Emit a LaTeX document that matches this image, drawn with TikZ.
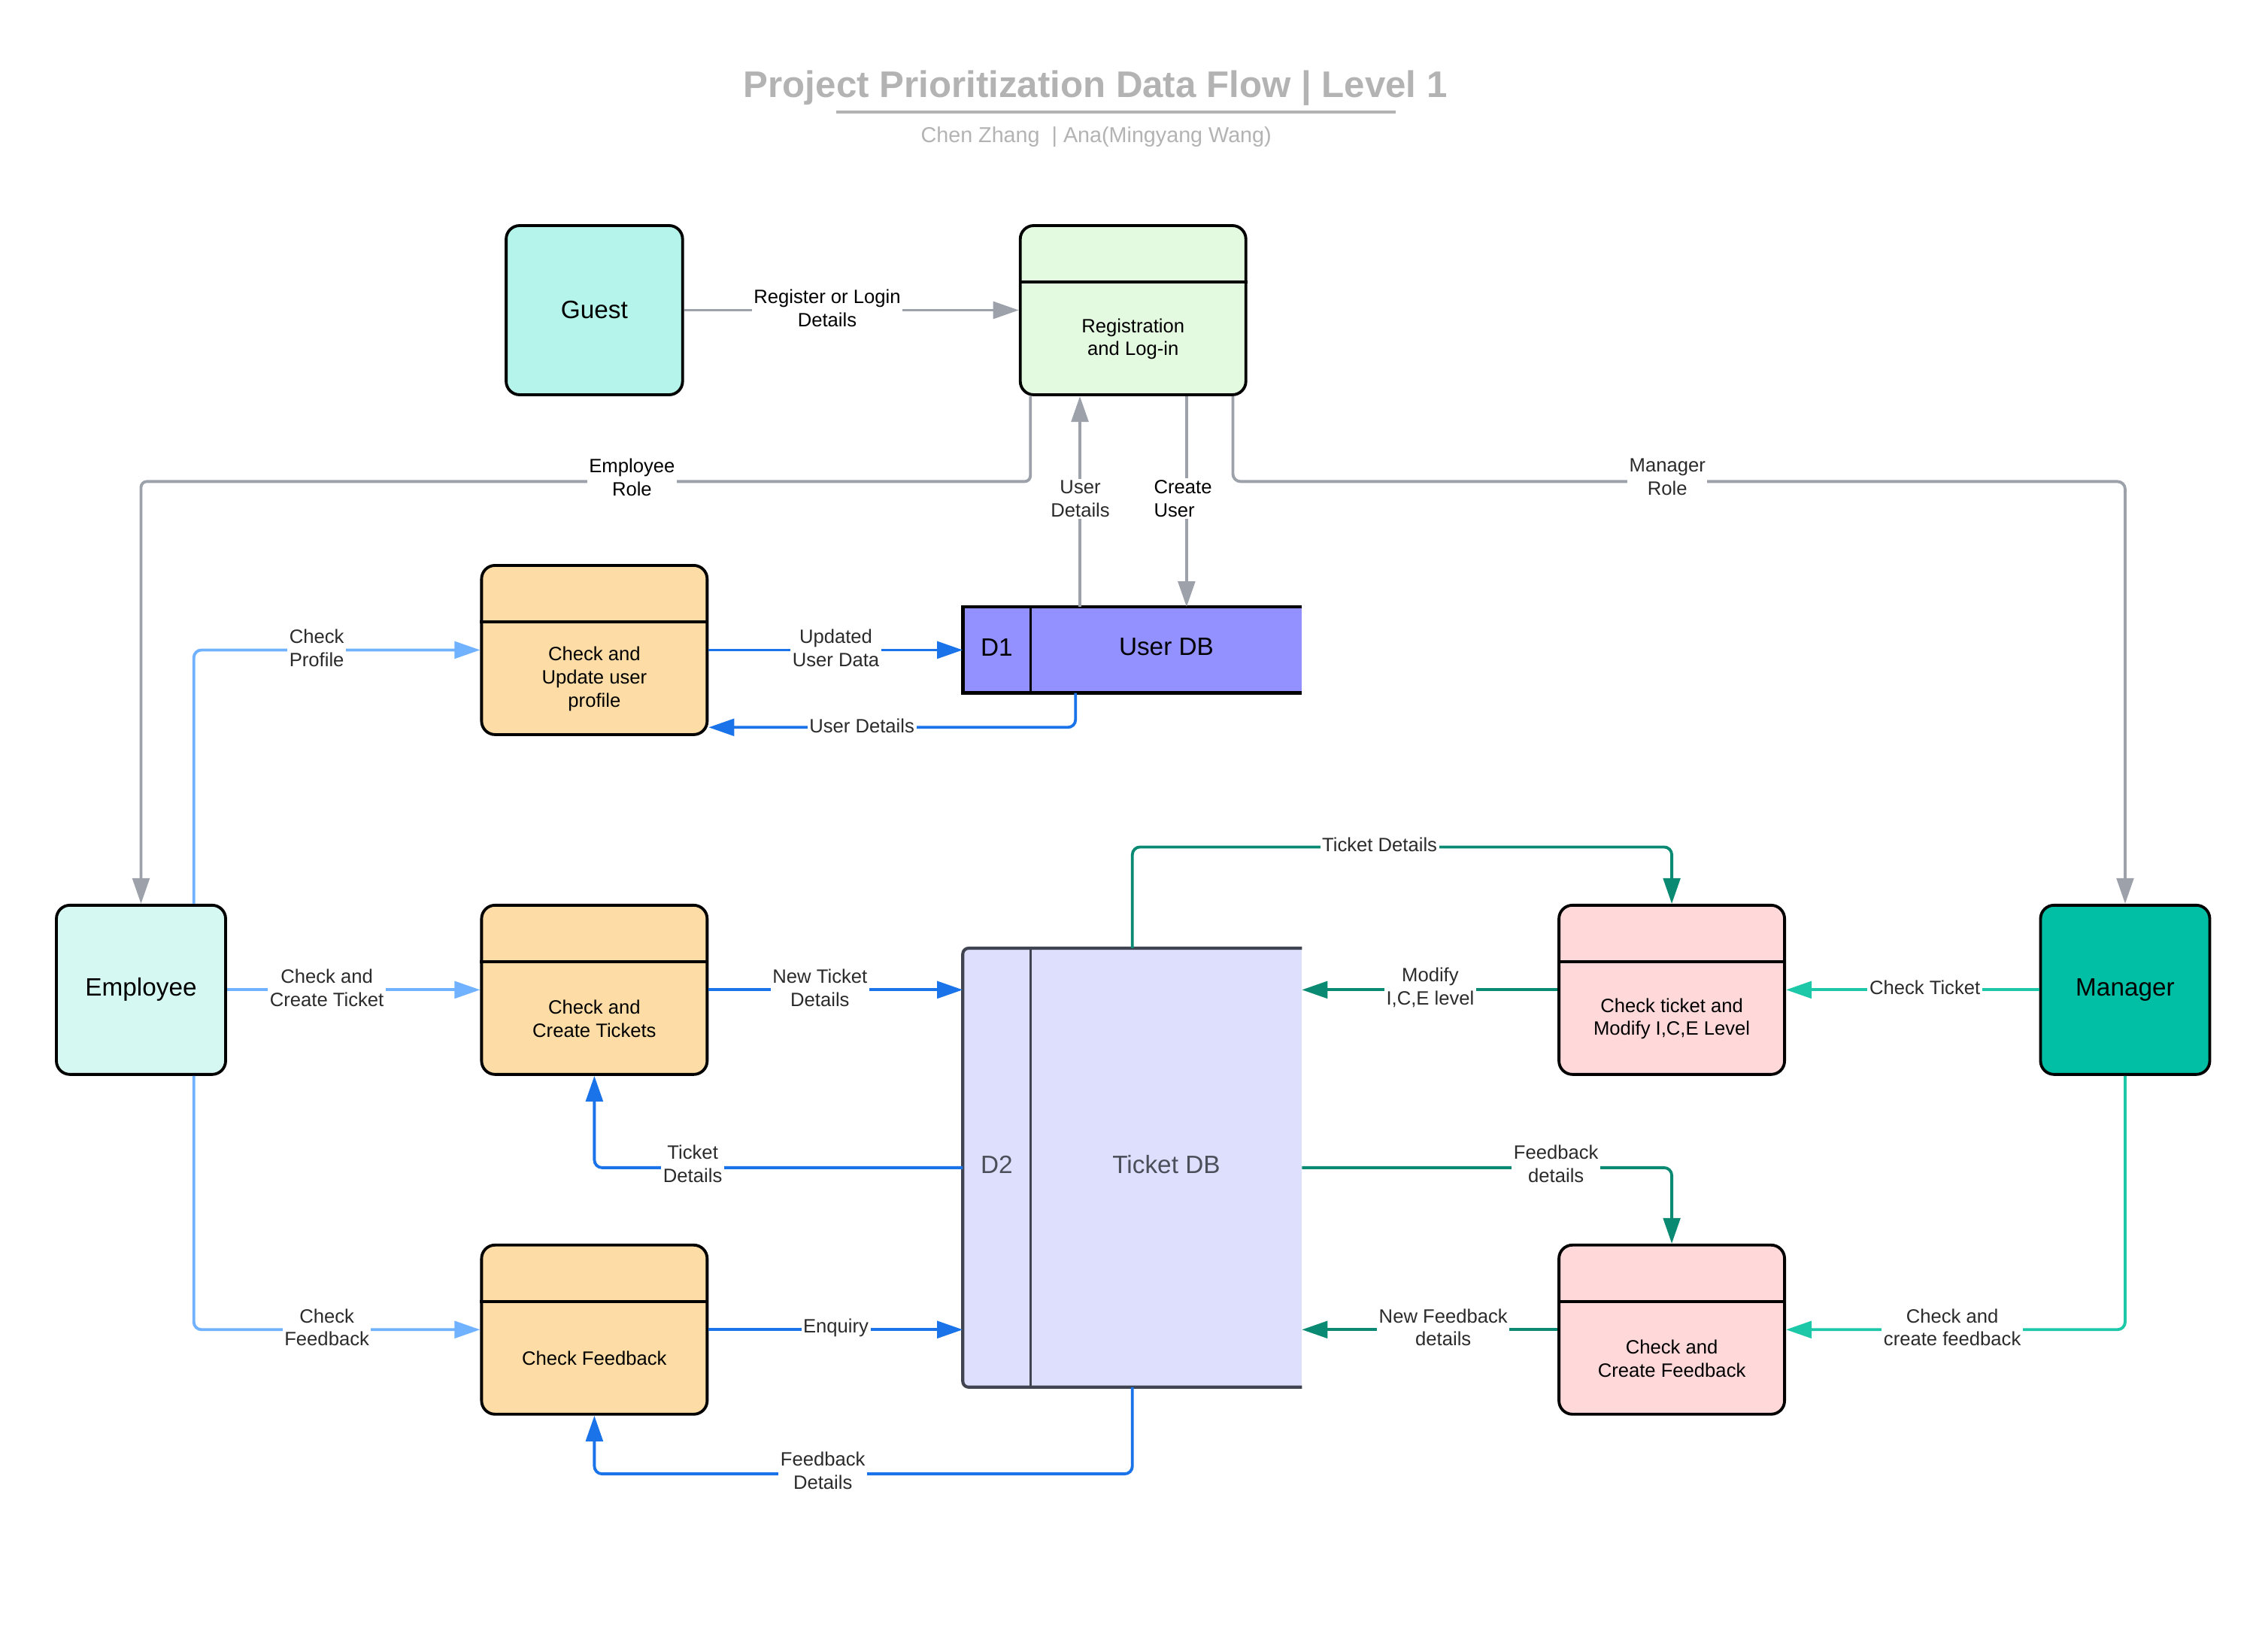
\documentclass[tikz,border=0pt]{standalone}
\usepackage{fontspec}
\setmainfont{Liberation Sans}
\usetikzlibrary{arrows.meta,calc}
\definecolor{cguest}{HTML}{B4F4EA}
\definecolor{creg}{HTML}{E3FAE0}
\definecolor{corange}{HTML}{FDDCA5}
\definecolor{cudb}{HTML}{9391FF}
\definecolor{ctdb}{HTML}{DEDFFD}
\definecolor{ctdbline}{HTML}{3F4450}
\definecolor{cemp}{HTML}{D6F8F3}
\definecolor{cpink}{HTML}{FFD9DA}
\definecolor{cmgr}{HTML}{00BFA5}
\definecolor{cgray}{HTML}{9CA1AA}
\definecolor{cblue}{HTML}{1A73E8}
\definecolor{clblue}{HTML}{70B2FF}
\definecolor{cdteal}{HTML}{0B8A73}
\definecolor{cbteal}{HTML}{1CC8A7}
\definecolor{ctitle}{HTML}{B3B3B3}
\definecolor{clabel}{HTML}{2B2B2B}
\definecolor{cdbtext}{HTML}{4A4F5A}
\begin{document}
\begin{tikzpicture}[x=0.75pt,y=-0.75pt,
  box/.style={draw=black, line width=1.5pt, rounded corners=7pt, inner sep=0pt, minimum height=87.75pt},
  entity/.style={box, minimum width=87.75pt, font=\fontsize{13}{15}\selectfont},
  proc/.style={box, minimum width=117pt},
  ptext/.style={align=center, font=\fontsize{10}{12}\selectfont, inner sep=0pt},
  lbl/.style={align=center, font=\fontsize{10}{12}\selectfont, text=clabel, fill=white, inner sep=1pt},
  tip/.style={-{Triangle[length=13.3pt,width=8.8pt]}},
  garrow/.style={draw=cgray, line width=1.5pt, tip},
  barrow/.style={draw=cblue, line width=1.5pt, tip},
  lbarrow/.style={draw=clblue, line width=1.5pt, tip},
  darrow/.style={draw=cdteal, line width=1.5pt, tip},
  tarrow/.style={draw=cbteal, line width=1.5pt, tip},
  divider/.style={line width=1.5pt, draw=black},
  dbtext/.style={font=\fontsize{13}{15}\selectfont, inner sep=0pt}
]
\useasboundingbox (0,0) rectangle (1560,1142);

% title
\node[font=\fontsize{19.2}{22}\selectfont\bfseries, text=ctitle] (title) at (757.5,61) {Project Prioritization Data Flow | Level 1};
\coordinate (ul1) at (578,77.5);
\coordinate (ul2) at (965,77.5);
\draw[draw=ctitle, line width=1.6pt] (ul1) -- (ul2);
\node[font=\fontsize{11.2}{13}\selectfont, text=ctitle] (subtitle) at (758,94.5) {Chen Zhang \ | Ana(Mingyang Wang)};

% entities
\node[entity, fill=cguest, minimum width=91.5pt] (guest) at (411,214.5) {Guest};
\node[entity, fill=cemp] (emp) at (97.5,684.5) {Employee};
\node[entity, fill=cmgr] (mgr) at (1469.5,684.5) {Manager};

% processes
\node[proc, fill=creg] (reg) at (783.5,214.5) {};
\node[proc, fill=corange] (upd) at (411,449.5) {};
\node[proc, fill=corange] (ctk) at (411,684.5) {};
\node[proc, fill=corange] (cfb) at (411,919.5) {};
\node[proc, fill=cpink] (ctm) at (1156,684.5) {};
\node[proc, fill=cpink] (cfc) at (1156,919.5) {};
\foreach \n in {reg,upd,ctk,cfb,ctm,cfc}{
  \draw[divider] ($(\n.north west)+(0,40)$) -- ($(\n.north east)+(0,40)$);
}
\node[ptext] (regt) at ($(reg.center)+(0,20)$) {Registration\\and Log-in};
\node[ptext] (updt) at ($(upd.center)+(0,20)$) {Check and\\Update user\\profile};
\node[ptext] (ctkt) at ($(ctk.center)+(0,20)$) {Check and\\Create Tickets};
\node[ptext] (cfbt) at ($(cfb.center)+(0,20)$) {Check Feedback};
\node[ptext] (ctmt) at ($(ctm.center)+(0,20)$) {Check ticket and\\Modify I,C,E Level};
\node[ptext] (cfct) at ($(cfc.center)+(0,20)$) {Check and\\Create Feedback};

% data stores
\node[fill=cudb, minimum width=175.5pt, minimum height=44.25pt, inner sep=0pt] (udb) at (783,449.5) {};
\draw[line width=1.8pt, draw=black] (udb.north east) -- (udb.north west) -- (udb.south west) -- (udb.south east);
\draw[line width=1.4pt, draw=black] ($(udb.north west)+(47,0)$) -- ($(udb.south west)+(47,0)$);
\node[dbtext] (d1) at ($(udb.west)+(23.5,-2)$) {D1};
\node[dbtext] (udbt) at ($(udb.center)+(23.5,-2)$) {User DB};

\node[fill=ctdb, minimum width=175.5pt, minimum height=227.25pt, inner sep=0pt] (tdb) at (783,807.5) {};
\draw[line width=1.6pt, draw=ctdbline, rounded corners=3pt] (tdb.north east) -- (tdb.north west) -- (tdb.south west) -- (tdb.south east);
\draw[line width=1.2pt, draw=ctdbline] ($(tdb.north west)+(47,0)$) -- ($(tdb.south west)+(47,0)$);
\node[dbtext, text=cdbtext] (d2) at ($(tdb.west)+(23.5,-2)$) {D2};
\node[dbtext, text=cdbtext] (tdbt) at ($(tdb.center)+(23.5,-2)$) {Ticket DB};

% gray connectors
\draw[garrow] (guest) -- (reg);
\draw[garrow, rounded corners=3pt] ($(reg.south west)+(8,0)$) -- ++(0,59) -| (emp.north);
\draw[garrow, rounded corners=4pt] ($(reg.south east)+(-10,0)$) -- ++(0,59) -| (mgr.north);
\coordinate (ud1) at ($(udb.north west)+(81,0)$);
\draw[garrow] (ud1) -- (ud1 |- reg.south);
\coordinate (cu1) at ($(reg.south west)+(116,0)$);
\draw[garrow] (cu1) -- (cu1 |- udb.north);

% blue connectors (employee side)
\coordinate (cp) at ($(emp.north west)+(96,0)$);
\draw[lbarrow, rounded corners=4pt] (cp) |- (upd.west);
\draw[lbarrow] (emp.east) -- (ctk.west);
\coordinate (cfq) at ($(emp.south west)+(96,0)$);
\draw[lbarrow, rounded corners=4pt] (cfq) |- (cfb.west);

\draw[barrow] (upd.east) -- (upd.east -| udb.west);
\coordinate (ud2) at ($(udb.south west)+(78,0)$);
\draw[barrow, rounded corners=4pt] (ud2) |- ($(upd.east)+(0,53.5)$);
\draw[barrow] (ctk.east) -- (ctk.east -| tdb.west);
\draw[barrow, rounded corners=4pt] (tdb.west) -| (ctk.south);
\draw[barrow] (cfb.east) -- (cfb.east -| tdb.west);
\draw[barrow, rounded corners=4pt] (tdb.south) -- ++(0,60) -| (cfb.south);

% teal connectors (manager side)
\draw[darrow, rounded corners=4pt] (tdb.north) -- ++(0,-70) -| (ctm.north);
\draw[darrow] (ctm.west) -- (ctm.west -| tdb.east);
\draw[darrow, rounded corners=4pt] (tdb.east) -| (cfc.north);
\draw[darrow] (cfc.west) -- (cfc.west -| tdb.east);
\draw[tarrow] (mgr.west) -- (ctm.east);
\draw[tarrow, rounded corners=4pt] (mgr.south) |- (cfc.east);

% labels
\node[lbl, text=black] (l1) at (572,213) {Register or Login\\Details};
\node[lbl, text=black] (l2) at (437,330) {Employee\\Role};
\node[lbl] (l3) at (1153,330) {Manager\\Role};
\node[lbl] (l4) at (747,345) {User\\Details};
\node[lbl, text=black, align=left] (l5) at (818,345) {Create\\User};
\node[lbl] (l6) at (219,448) {Check\\Profile};
\node[lbl] (l7) at (578,448) {Updated\\User Data};
\node[lbl] (l8) at (596,502) {User Details};
\node[lbl] (l9) at (226,683) {Check and\\Create Ticket};
\node[lbl] (l10) at (567,683) {New Ticket\\Details};
\node[lbl] (l11) at (479,805) {Ticket\\Details};
\node[lbl] (l12) at (226,918) {Check\\Feedback};
\node[lbl] (l13) at (578,918) {Enquiry};
\node[lbl] (l14) at (569,1017) {Feedback\\Details};
\node[lbl] (l15) at (954,584) {Ticket Details};
\node[lbl] (l16) at (989,683) {Modify\\I,C,E level};
\node[lbl] (l17) at (1331,683) {Check Ticket};
\node[lbl] (l18) at (1076,805) {Feedback\\details};
\node[lbl] (l19) at (998,918) {New Feedback\\details};
\node[lbl] (l20) at (1350,918) {Check and\\create feedback};
\end{tikzpicture}
\end{document}
